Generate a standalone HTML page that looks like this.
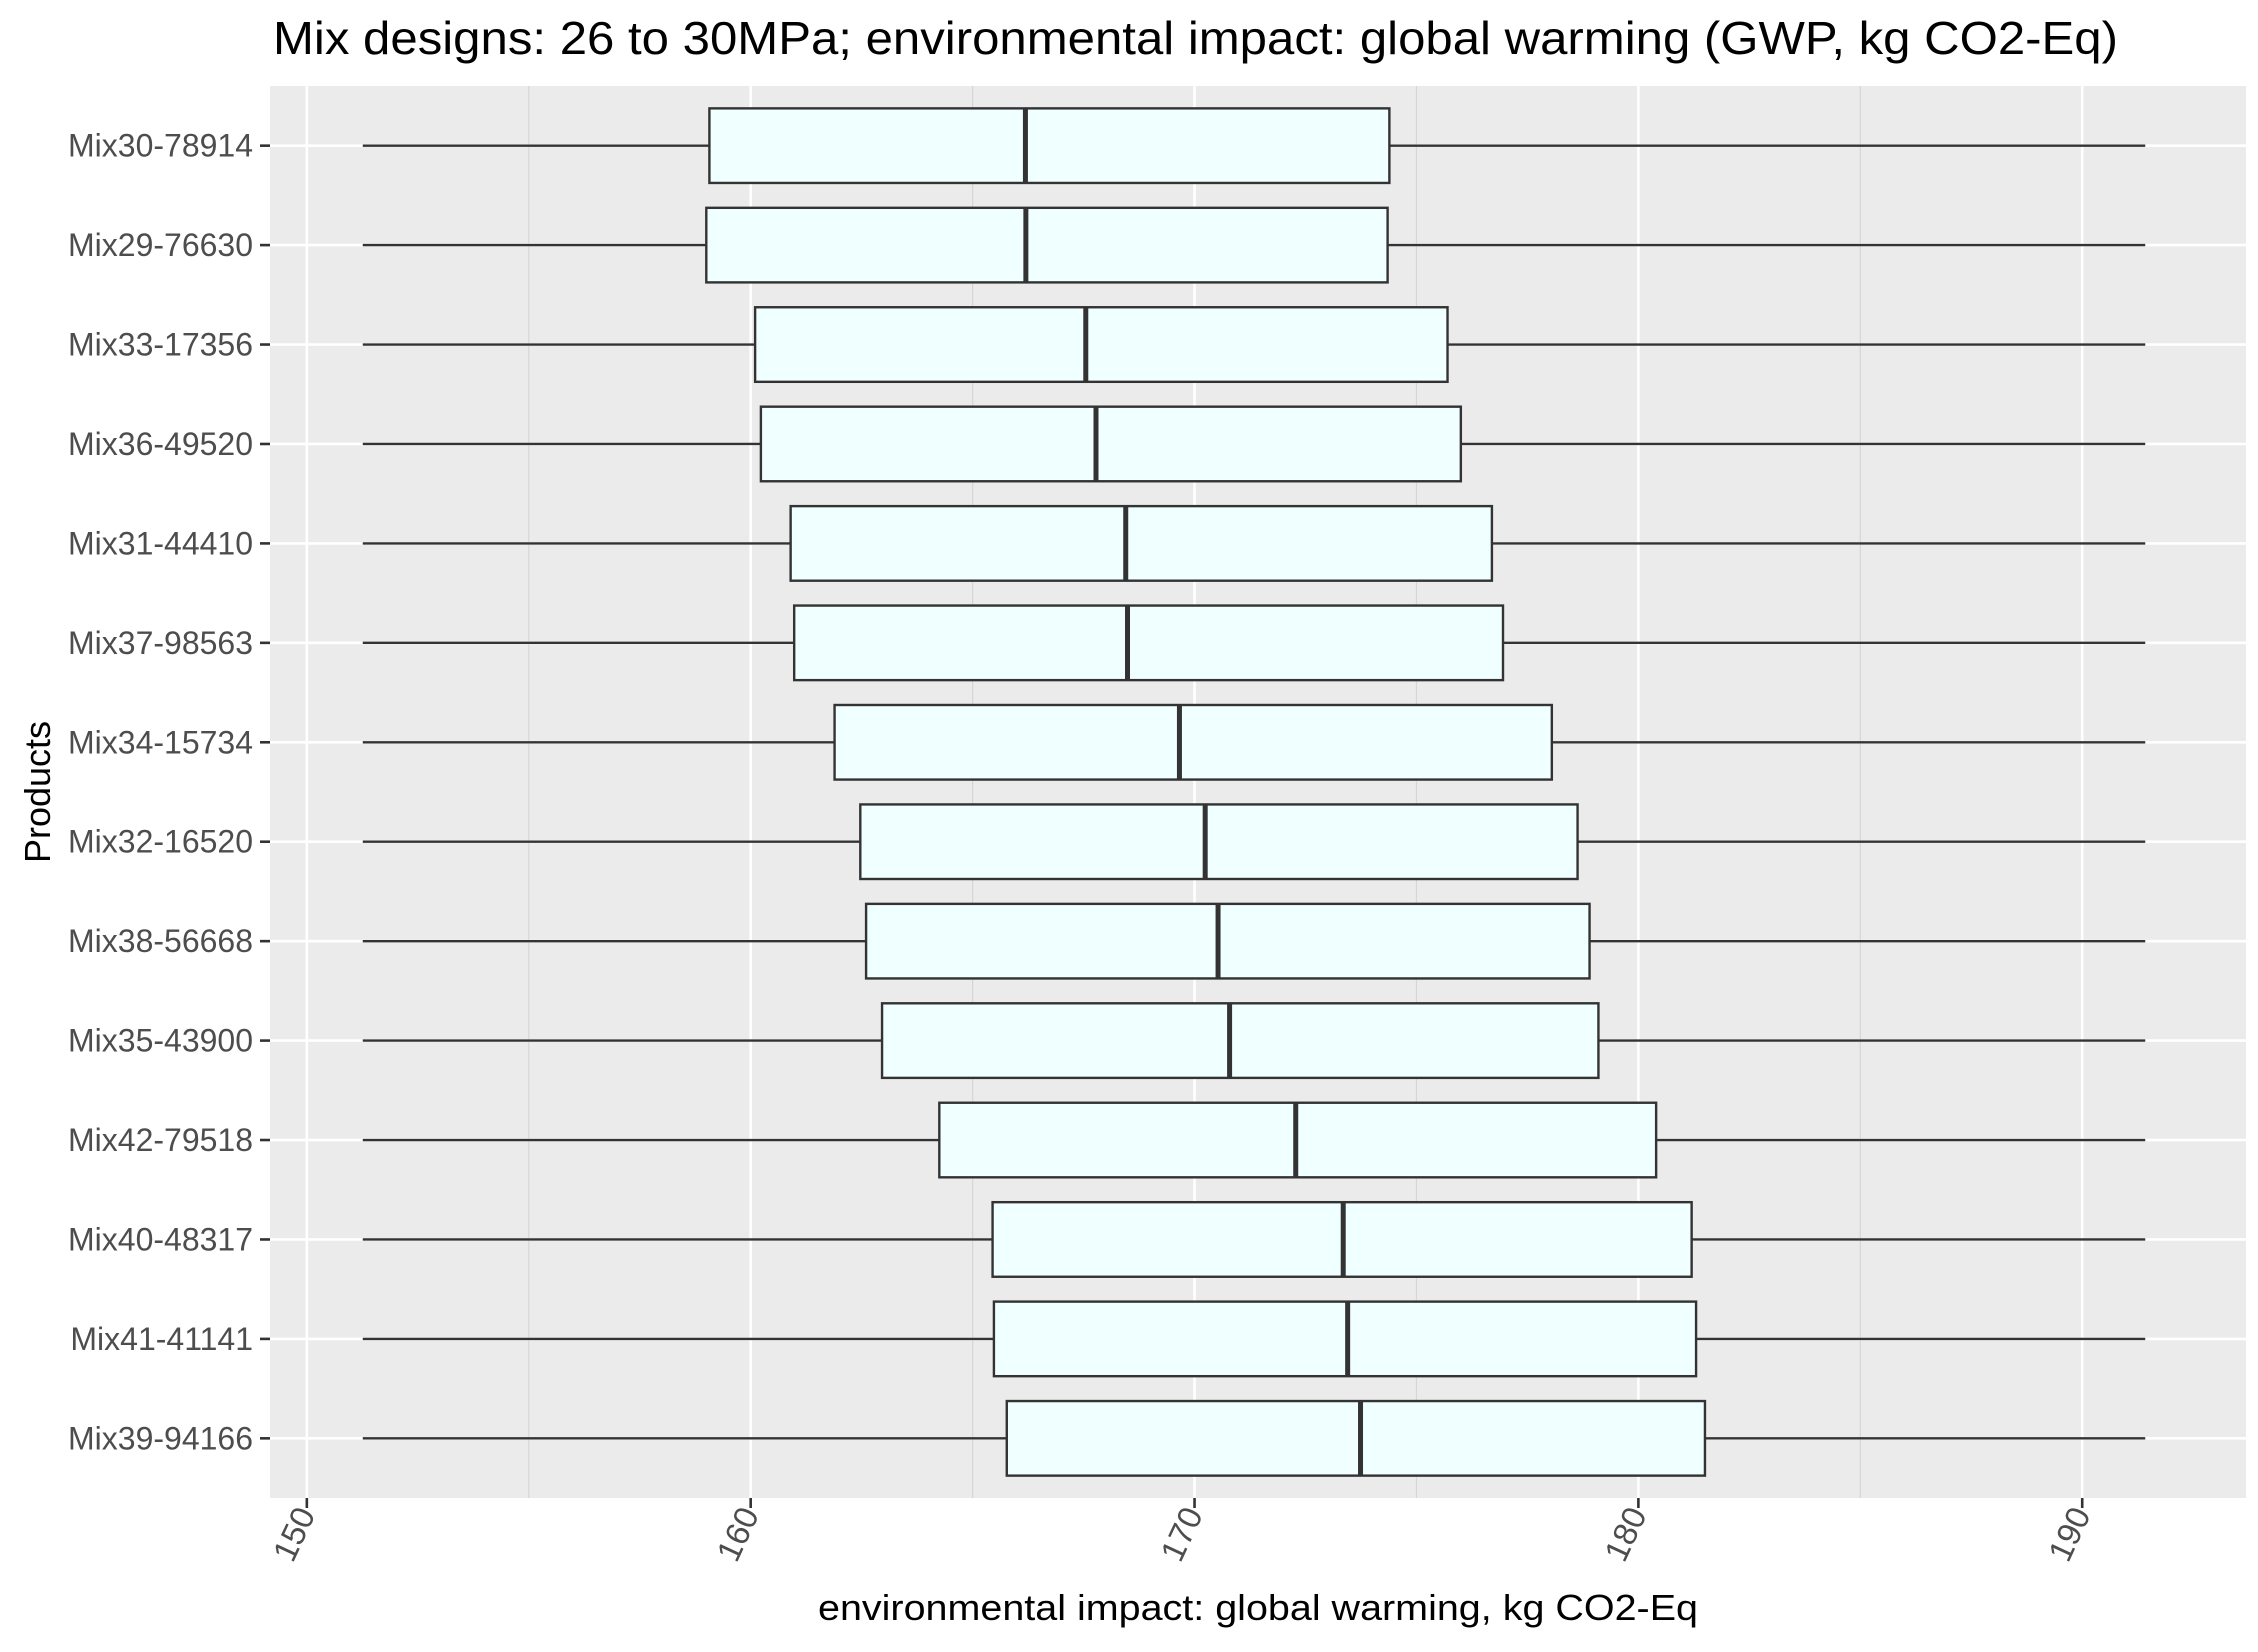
<!DOCTYPE html>
<html><head><meta charset="utf-8"><style>
html,body{margin:0;padding:0;background:#fff;}
svg text{font-family:"Liberation Sans",Arial,sans-serif;}
</style></head><body>
<svg id="chart" width="2258" height="1647" viewBox="0 0 2258 1647" xmlns="http://www.w3.org/2000/svg">
<text x="273" y="54" font-size="46" fill="#000" textLength="1845" lengthAdjust="spacingAndGlyphs">Mix designs: 26 to 30MPa; environmental impact: global warming (GWP, kg CO2-Eq)</text>
<rect x="270" y="86" width="1976" height="1412" fill="#ebebeb"/>
<g id="grid"></g>
<g id="boxes"></g>
<g id="yaxis"></g>
<g id="xaxis"></g>
<text x="1258" y="1620" font-size="36" text-anchor="middle" fill="#000" textLength="880" lengthAdjust="spacingAndGlyphs">environmental impact: global warming, kg CO2-Eq</text>
<text transform="translate(50,792) rotate(-90)" font-size="36" text-anchor="middle" fill="#000">Products</text>
</svg>
<script>
const categories=["Mix30-78914","Mix29-76630","Mix33-17356","Mix36-49520","Mix31-44410","Mix37-98563","Mix34-15734","Mix32-16520","Mix38-56668","Mix35-43900","Mix42-79518","Mix40-48317","Mix41-41141","Mix39-94166"];
const whiskerLow=[151.26,151.26,151.26,151.26,151.26,151.26,151.26,151.26,151.26,151.26,151.26,151.26,151.26,151.26];
const q1=[159.07,159.0,160.1,160.23,160.9,160.98,161.89,162.47,162.6,162.96,164.25,165.45,165.48,165.77];
const median=[166.19,166.2,167.55,167.78,168.45,168.49,169.66,170.24,170.53,170.79,172.28,173.35,173.45,173.74];
const q3=[174.39,174.35,175.7,176.0,176.7,176.95,178.05,178.63,178.9,179.1,180.4,181.2,181.3,181.5];
const whiskerHigh=[191.42,191.42,191.42,191.42,191.42,191.42,191.42,191.42,191.42,191.42,191.42,191.42,191.42,191.42];
const xTicks=[150,160,170,180,190];
const xMinor=[155,165,175,185];

const NS="http://www.w3.org/2000/svg";
const PL=270,PR=2246,PT=86,PB=1498;
const xMin=149.17,xMax=193.69;
const X=v=>PL+(v-xMin)/(xMax-xMin)*(PR-PL);
const step=(PB-PT)/(categories.length-1+1.2);
const Y=i=>PT+0.6*step+i*step;
function el(tag,attrs,parent){const e=document.createElementNS(NS,tag);for(const k in attrs)e.setAttribute(k,attrs[k]);parent.appendChild(e);return e;}
const grid=document.getElementById('grid'),boxes=document.getElementById('boxes'),ya=document.getElementById('yaxis'),xa=document.getElementById('xaxis');
xMinor.forEach(v=>{const l=el('line',{x1:X(v),x2:X(v),y1:PT,y2:PB,stroke:'#d6d6d6','stroke-width':1.2},grid);

});
xTicks.forEach(v=>{const l=el('line',{x1:X(v),x2:X(v),y1:PT,y2:PB,stroke:'#fff','stroke-width':2.6},grid);


const t=el('line',{x1:X(v),x2:X(v),y1:PB,y2:PB+10,stroke:'#333','stroke-width':2.6},xa);


const tx=el('text',{transform:`translate(${X(v)+9},${PB+16}) rotate(-65)`,'font-size':33,'text-anchor':'end',fill:'#4d4d4d'},xa);
tx.textContent=v;

});
categories.forEach((c,i)=>{const y=Y(i);
const g=el('line',{x1:PL,x2:PR,y1:y,y2:y,stroke:'#fff','stroke-width':2.6},grid);


const t=el('line',{x1:PL-10,x2:PL,y1:y,y2:y,stroke:'#333','stroke-width':2.6},ya);


const tx=el('text',{x:PL-17,y:y+11,'font-size':32,'text-anchor':'end',fill:'#4d4d4d'},ya);
tx.textContent=c;


const bg=el('g',{},boxes);


el('line',{x1:X(whiskerLow[i]),x2:X(q1[i]),y1:y,y2:y,stroke:'#333','stroke-width':2.4},bg);
el('line',{x1:X(q3[i]),x2:X(whiskerHigh[i]),y1:y,y2:y,stroke:'#333','stroke-width':2.4},bg);
const h=step*0.75;
el('rect',{x:X(q1[i]),y:y-h/2,width:X(q3[i])-X(q1[i]),height:h,fill:'#f0ffff',stroke:'#333','stroke-width':2.4},bg);
el('line',{x1:X(median[i]),x2:X(median[i]),y1:y-h/2,y2:y+h/2,stroke:'#333','stroke-width':5},bg);});
</script>
</body></html>
